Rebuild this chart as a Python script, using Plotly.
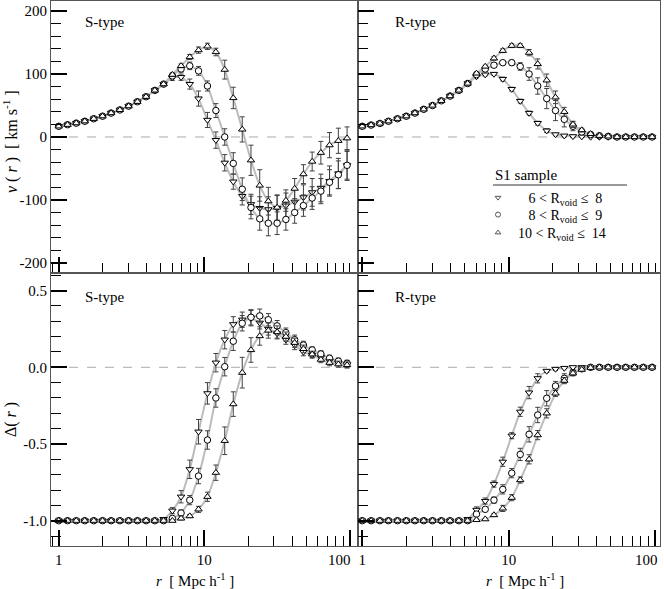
import plotly.graph_objects as go

# ---------------- data ----------------
r = [1.00, 1.15, 1.32, 1.51, 1.74, 2.00, 2.29, 2.63, 3.02, 3.47, 3.98, 4.57,
     5.25, 6.03, 6.92, 7.94, 9.12, 10.5, 12.0, 13.8, 15.8, 18.2, 20.9, 24.0,
     27.5, 31.6, 36.3, 41.7, 47.9, 55.0, 63.1, 72.4, 83.2, 95.5]

legend_labels = ["\u2007 6 < R<sub>void</sub> \u2264  8",
                 "\u2007 8 < R<sub>void</sub> \u2264  9",
                 "10 < R<sub>void</sub> \u2264  14"]

# velocity profiles, S-type
vS_small = [17, 19.5, 22, 25, 29, 33, 38, 43, 49, 56, 64, 74, 84, 94, 95, 84, 61, 27, -5, -41,
            -71, -94, -107, -113, -115, -113, -109, -103, -96, -88, -81, -70, -58, -45]
vS_mid = [17, 19.5, 22, 25, 29, 33, 38, 43, 49, 56, 64, 74, 84, 97, 108, 113, 105, 81, 42, 0,
          -42, -83, -112, -130, -137, -137, -131, -120, -109, -97, -86, -72, -60, -45]
vS_big = [17, 19.5, 22, 25, 29, 33, 38, 43, 49, 56, 64, 74, 84, 99, 113, 127, 138, 144, 135, 107,
          62, 12, -37, -77, -102, -112, -101, -82, -59, -39, -25, -13, -6, -2]
evS_small = [2, 2, 2, 2, 2, 2, 2, 2, 2, 2, 2, 2, 3, 4, 5, 8, 12, 12, 13, 13,
             12, 14, 16, 18, 20, 20, 20, 20, 20, 22, 22, 24, 24, 24]
evS_mid = [2, 2, 2, 2, 2, 2, 2, 2, 2, 2, 3, 3, 3, 4, 5, 6, 7, 8, 11, 13,
           17, 18, 18, 18, 20, 18, 17, 17, 17, 18, 20, 20, 22, 22]
evS_big = [2, 2, 2, 2, 2, 2, 2, 2, 2, 3, 3, 3, 3, 3, 3, 4, 5, 5, 6, 15,
           17, 20, 24, 25, 22, 20, 17, 16, 15, 15, 18, 20, 20, 18]

# velocity profiles, R-type
vR_small = [17, 19, 21.5, 25, 29, 33, 38, 44, 50, 57.5, 65, 74, 85, 96, 99, 100, 92, 76, 57, 38,
            22, 10, 4, 2, 1, 0.5, 0, 0, 0, 0, 0, 0, 0, 0]
vR_mid = [17, 19, 21.5, 25, 29, 33, 38, 44, 50, 57.5, 65, 74, 85, 99, 108, 114, 118, 118, 112, 100,
          81, 61, 42, 28, 17, 8, 4, 2, 1, 0, 0, 0, 0, 0]
vR_big = [17, 19, 21.5, 25, 29, 33, 38, 44, 50, 57.5, 65, 74, 85, 101, 112, 125, 137, 145, 145, 134,
          116, 90, 63, 40, 20, 11, 5, 2, 1, 0, 0, 0, 0, 0]
evR_small = [1, 1, 1, 1, 1, 1, 1, 1, 1, 1, 2, 2, 2, 2, 2, 2, 3, 3, 3, 3,
             3, 3, 2, 2, 2, 1, 1, 1, 1, 1, 1, 1, 1, 1]
evR_mid = [1, 1, 1, 1, 1, 1, 1, 1, 1, 1, 2, 2, 2, 2, 3, 3, 3, 4, 6, 10,
           13, 16, 16, 12, 7, 4, 3, 2, 1, 1, 1, 1, 1, 1]
evR_big = [1, 1, 1, 1, 1, 1, 1, 1, 1, 1, 2, 2, 2, 2, 2, 3, 3, 3, 3, 5,
           8, 10, 10, 7, 5, 3, 2, 2, 1, 1, 1, 1, 1, 1]

# density contrast, S-type
dS_small = [-1.0] * 12 + [-0.99, -0.935, -0.844, -0.665, -0.42, -0.17, 0.03, 0.18, 0.28, 0.31,
                          0.32, 0.29, 0.25, 0.22, 0.18, 0.145, 0.10, 0.08, 0.065, 0.043, 0.03, 0.02]
dS_mid = [-1.0] * 12 + [-1.0, -0.985, -0.95, -0.866, -0.709, -0.474, -0.20, 0.004, 0.17, 0.287,
                        0.326, 0.335, 0.31, 0.27, 0.226, 0.18, 0.145, 0.113, 0.087, 0.059, 0.04, 0.026]
dS_big = [-1.0] * 12 + [-1.0, -1.0, -0.985, -0.97, -0.926, -0.844, -0.687, -0.479, -0.24, -0.035,
                        0.113, 0.204, 0.24, 0.23, 0.20, 0.16, 0.12, 0.085, 0.05, 0.03, 0.02, 0.015]
edS_small = [0.004] * 12 + [0.01, 0.02, 0.04, 0.06, 0.08, 0.07, 0.06, 0.06, 0.05, 0.05,
                            0.05, 0.04, 0.04, 0.035, 0.03, 0.03, 0.025, 0.02, 0.02, 0.02, 0.02, 0.02]
edS_mid = [0.004] * 12 + [0.005, 0.01, 0.02, 0.03, 0.05, 0.06, 0.06, 0.06, 0.06, 0.05,
                          0.05, 0.045, 0.04, 0.035, 0.03, 0.03, 0.025, 0.02, 0.02, 0.02, 0.02, 0.02]
edS_big = [0.004] * 12 + [0.005, 0.005, 0.01, 0.01, 0.02, 0.03, 0.05, 0.09, 0.08, 0.10,
                          0.08, 0.06, 0.05, 0.04, 0.03, 0.03, 0.025, 0.02, 0.02, 0.02, 0.02, 0.02]

# density contrast, R-type
dR_small = [-1.0] * 12 + [-0.99, -0.93, -0.872, -0.761, -0.616, -0.446, -0.29, -0.165, -0.072, -0.024,
                          -0.011, -0.005, 0, 0, 0, 0, 0, 0, 0, 0, 0, 0]
dR_mid = [-1.0] * 12 + [-1.0, -0.957, -0.926, -0.866, -0.796, -0.69, -0.568, -0.437, -0.311, -0.202,
                        -0.122, -0.072, -0.035, -0.01, 0, 0, 0, 0, 0, 0, 0, 0]
dR_big = [-1.0] * 12 + [-1.0, -0.995, -0.99, -0.963, -0.92, -0.85, -0.735, -0.6, -0.442, -0.3,
                        -0.17, -0.087, -0.039, -0.015, -0.003, 0, 0, 0, 0, 0, 0, 0]
edR_small = [0.003] * 12 + [0.005, 0.02, 0.02, 0.02, 0.03, 0.02, 0.03, 0.04, 0.03, 0.01,
                            0.01, 0.005, 0.005, 0.003, 0.003, 0.003, 0.003, 0.003, 0.003, 0.003, 0.003, 0.003]
edR_mid = [0.003] * 12 + [0.005, 0.01, 0.01, 0.02, 0.03, 0.03, 0.04, 0.05, 0.05, 0.05,
                          0.03, 0.03, 0.02, 0.01, 0.005, 0.003, 0.003, 0.003, 0.003, 0.003, 0.003, 0.003]
edR_big = [0.003] * 12 + [0.003, 0.005, 0.005, 0.01, 0.02, 0.02, 0.02, 0.03, 0.03, 0.03,
                          0.02, 0.02, 0.015, 0.01, 0.005, 0.003, 0.003, 0.003, 0.003, 0.003, 0.003, 0.003]

v_ticks = [-200, -100, 0, 100, 200]
v_ticktext = ["-200", "-100", "0", "100", "200"]
d_ticks = [-1.0, -0.5, 0.0, 0.5]
d_ticktext = ["-1.0", "-0.5", "0.0", "0.5"]
r_ticks = [1, 10, 100]
r_ticktext = ["1", "10", ""]      # the "100" labels sit slightly left of their ticks (added below)
r_last_label = "100"

symbols = ["triangle-down", "circle", "triangle-up"]

panels = [
    ("x", "y", [vS_small, vS_mid, vS_big], [evS_small, evS_mid, evS_big]),
    ("x2", "y2", [vR_small, vR_mid, vR_big], [evR_small, evR_mid, evR_big]),
    ("x3", "y3", [dS_small, dS_mid, dS_big], [edS_small, edS_mid, edS_big]),
    ("x4", "y4", [dR_small, dR_mid, dR_big], [edR_small, edR_mid, edR_big]),
]

FONT = "Liberation Serif"
fig = go.Figure()

# gray curves first
for xa, ya, ys, es in panels:
    for k in range(3):
        fig.add_trace(go.Scatter(x=r, y=ys[k], xaxis=xa, yaxis=ya, mode="lines",
                                 line=dict(color="#bcbcbc", width=2, shape="spline", smoothing=0.6),
                                 showlegend=False, hoverinfo="skip"))
# markers with error bars
for xa, ya, ys, es in panels:
    for k in range(3):
        fig.add_trace(go.Scatter(x=r, y=ys[k], xaxis=xa, yaxis=ya, mode="markers",
                                 marker=dict(symbol=symbols[k], size=6.5, color="white",
                                             line=dict(color="black", width=1)),
                                 error_y=dict(type="data", array=es[k], visible=True,
                                              color="#404040", thickness=1, width=2.5),
                                 showlegend=False))
# legend entries (one legend per row for exact spacing)
legend_ids = ["legend", "legend2", "legend3"]
for k in range(3):
    fig.add_trace(go.Scatter(x=[None], y=[None], xaxis="x2", yaxis="y2", mode="markers",
                             marker=dict(symbol=symbols[k], size=5, color="white",
                                         line=dict(color="#555", width=1)),
                             name=legend_labels[k], showlegend=True, legend=legend_ids[k]))

xrange_left = [-0.053, 2.055]
xrange_right = [-0.029, 2.034]
split_x = 0.5041
split_y = 0.501
LINEC = "#555555"

def xax(domain, anchor, rng, labels):
    return dict(type="log", range=rng, domain=domain, anchor=anchor,
                showgrid=False, zeroline=False, showline=True, mirror=True,
                linecolor=LINEC, linewidth=1,
                ticks="inside", ticklen=16, tickwidth=2, tickcolor="black",
                tickmode="array", tickvals=r_ticks, ticktext=r_ticktext,
                showticklabels=labels, tickfont=dict(family=FONT, size=15, color="black"),
                minor=dict(ticks="inside", ticklen=10, tickwidth=1, tickcolor="black",
                           dtick="D1", showgrid=False))

def yax(domain, anchor, rng, tv, tt, minor_dt, labels):
    return dict(range=rng, domain=domain, anchor=anchor,
                showgrid=False, zeroline=False, showline=True, mirror=True,
                linecolor=LINEC, linewidth=1,
                ticks="inside", ticklen=16, tickwidth=2, tickcolor="black",
                tickmode="array", tickvals=tv, ticktext=tt,
                showticklabels=labels, tickfont=dict(family=FONT, size=15, color="black"),
                minor=dict(ticks="inside", ticklen=10, tickwidth=1, tickcolor="black",
                           dtick=minor_dt, tick0=0, showgrid=False))

def pyp(py):
    # page pixel (from top) -> paper y
    return (546 - py) / 545.0

def pxp(px):
    return (px - 51) / 609.0

leg_common = dict(xanchor="left", yanchor="middle", bgcolor="rgba(0,0,0,0)", borderwidth=0,
                  font=dict(family=FONT, size=14, color="black"), itemwidth=30)

fig.update_layout(
    width=664, height=589, autosize=False,
    margin=dict(l=51, r=4, t=1, b=43),
    paper_bgcolor="white", plot_bgcolor="white",
    font=dict(family=FONT, size=15, color="black"),
    xaxis=xax([0, split_x], "y", xrange_left, False),
    xaxis2=xax([split_x, 1], "y2", xrange_right, False),
    xaxis3=xax([0, split_x], "y3", xrange_left, True),
    xaxis4=xax([split_x, 1], "y4", xrange_right, True),
    yaxis=yax([split_y, 1], "x", [-216, 216], v_ticks, v_ticktext, 20, True),
    yaxis2=yax([split_y, 1], "x2", [-216, 216], v_ticks, v_ticktext, 20, False),
    yaxis3=yax([0, split_y], "x3", [-1.165, 0.615], d_ticks, d_ticktext, 0.1, True),
    yaxis4=yax([0, split_y], "x4", [-1.165, 0.615], d_ticks, d_ticktext, 0.1, False),
    showlegend=True,
    legend=dict(x=pxp(478), y=pyp(198), **leg_common),
    legend2=dict(x=pxp(478), y=pyp(215), **leg_common),
    legend3=dict(x=pxp(478), y=pyp(233), **leg_common),
)

# zero reference lines
for xa, ya in [("x", "y"), ("x2", "y2"), ("x3", "y3"), ("x4", "y4")]:
    fig.add_shape(type="line", xref=f"{xa} domain", yref=ya, x0=0, x1=1, y0=0, y1=0,
                  line=dict(color="#aaaaaa", width=1, dash="dash"), layer="below")

# legend header underline
fig.add_shape(type="line", xref="paper", yref="paper", x0=pxp(493), x1=pxp(627),
              y0=pyp(185), y1=pyp(185), line=dict(color="#333", width=1))

# "100" tick labels, nudged left of their ticks as in the original (x=2 -> 100 on a log axis)
for xa, sh in [("x3", -10), ("x4", -9)]:
    fig.add_annotation(xref=xa, yref="paper", x=2, y=pyp(560), text=r_last_label,
                       showarrow=False, xanchor="center", yanchor="middle", xshift=sh,
                       font=dict(family=FONT, size=15, color="black"))

ann = [
    dict(text="S-type", x=pxp(83), y=pyp(22)),
    dict(text="R-type", x=pxp(393), y=pyp(22)),
    dict(text="S-type", x=pxp(83), y=pyp(297)),
    dict(text="R-type", x=pxp(393), y=pyp(297)),
    dict(text="S1 sample", x=pxp(493), y=pyp(175)),
]
for a in ann:
    fig.add_annotation(xref="paper", yref="paper", x=a["x"], y=a["y"], text=a["text"],
                       showarrow=False, xanchor="left", yanchor="middle",
                       font=dict(family=FONT, size=15, color="black"))

fig.add_annotation(xref="paper", yref="paper", x=pxp(11), y=pyp(142),
                   text="<i>v</i> ( <i>r</i> )  [ km s<sup>-1</sup> ]", textangle=-90,
                   showarrow=False, xanchor="center", yanchor="middle",
                   font=dict(family=FONT, size=16, color="black"))
fig.add_annotation(xref="paper", yref="paper", x=pxp(11), y=pyp(420),
                   text="\u0394( <i>r</i> )", textangle=-90,
                   showarrow=False, xanchor="center", yanchor="middle",
                   font=dict(family=FONT, size=16, color="black"))
for xc in [195, 525]:
    fig.add_annotation(xref="paper", yref="paper", x=pxp(xc), y=pyp(580),
                       text="<i>r</i>  [ Mpc h<sup>-1</sup> ]",
                       showarrow=False, xanchor="center", yanchor="middle",
                       font=dict(family=FONT, size=15, color="black"))

fig.write_html("out.html", config={"displayModeBar": False},
               post_script="document.body.style.margin='0px';document.body.style.padding='0px';")
